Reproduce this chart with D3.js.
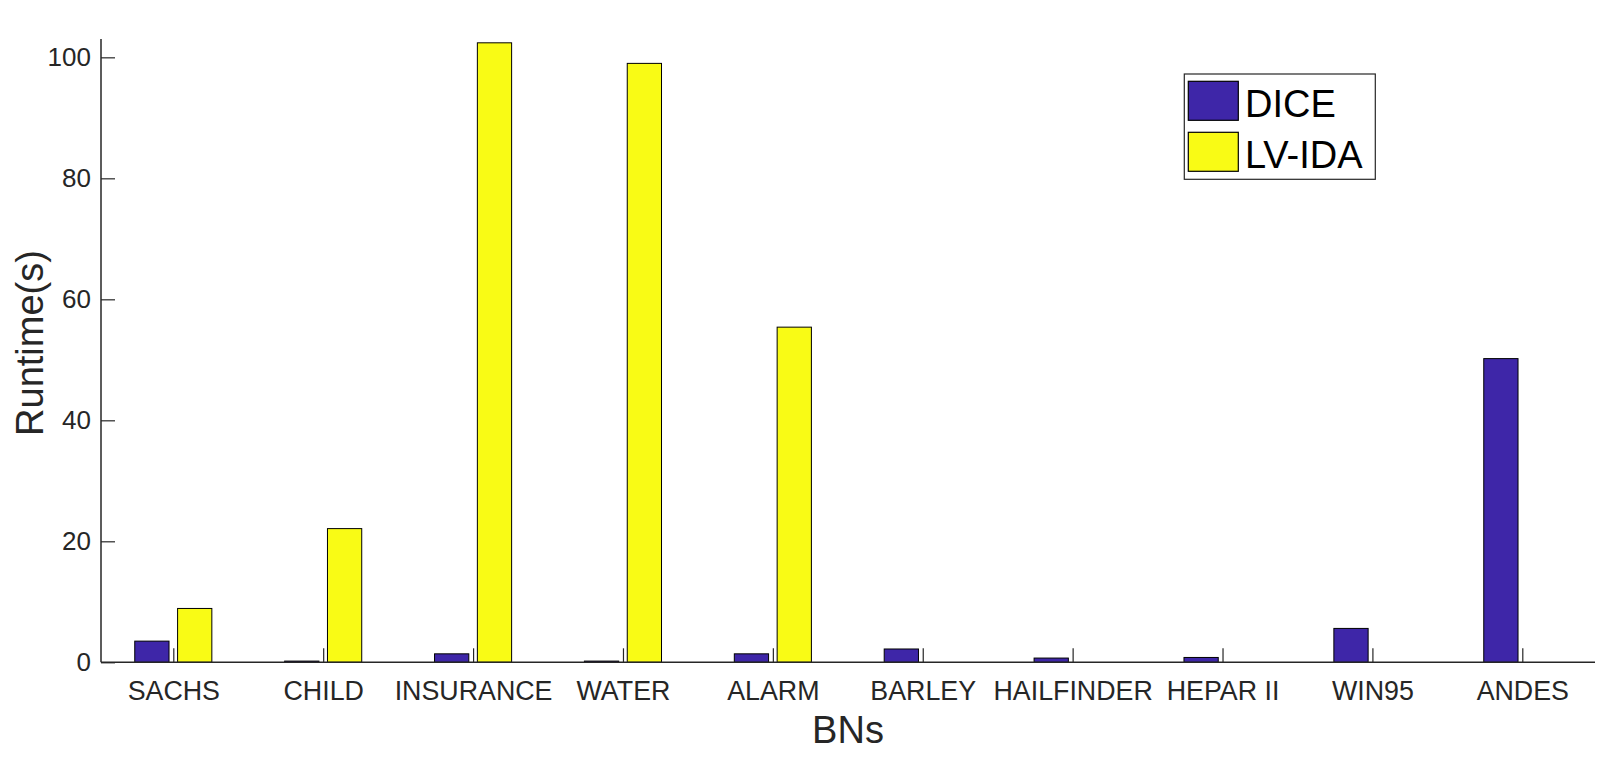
<!DOCTYPE html>
<html>
<head>
<meta charset="utf-8">
<script src="https://cdn.jsdelivr.net/npm/d3@7"></script>
<style>
  body { margin: 0; background: #fff; }
  text { font-family: "Liberation Sans", Arial, sans-serif; }
</style>
</head>
<body>
<div id="chart"></div>
<script>
// chart data
const categories = ["SACHS", "CHILD", "INSURANCE", "WATER", "ALARM", "BARLEY", "HAILFINDER", "HEPAR II", "WIN95", "ANDES"];
const diceValues = [3.5, 0.2, 1.4, 0.2, 1.4, 2.2, 0.7, 0.8, 5.6, 50.2];
const lvidaValues = [8.9, 22.1, 102.4, 99.0, 55.4, 0, 0, 0, 0, 0];
const yTicks = [0, 20, 40, 60, 80, 100];
const seriesNames = ["DICE", "LV-IDA"];
const seriesColors = ["#3e26a8", "#f9fb15"];

const width = 1597, height = 757;
const axisLeft = 101, axisRight = 1595, axisTop = 39, axisBottom = 662.3;
const axisColor = "#262626";

const svg = d3.select("#chart").append("svg")
  .attr("width", width)
  .attr("height", height);

// x: category index (1..10) -> pixel
const x = d3.scaleLinear().domain([1, 10]).range([173.3, 1522.3]);
const y = d3.scaleLinear().domain([0, 103.03]).range([axisBottom, axisTop]);

const groupWidth = 2 / 3.5;          // matlab grouped bar
const barW = groupWidth / 2 * 0.8;
const offsets = [-groupWidth / 4, groupWidth / 4];
const unit = x(2) - x(1);

const series = [diceValues, lvidaValues];
series.forEach(function (vals, s) {
  svg.append("g")
    .selectAll("rect")
    .data(vals.map((v, i) => ({ v: v, i: i + 1 })).filter(d => d.v > 0))
    .join("rect")
    .attr("x", d => x(d.i + offsets[s]) - barW * unit / 2)
    .attr("width", barW * unit)
    .attr("y", d => y(d.v))
    .attr("height", d => y(0) - y(d.v))
    .attr("fill", seriesColors[s])
    .attr("stroke", "#000")
    .attr("stroke-width", 1);
});

// y axis
const yAxis = svg.append("g").attr("transform", `translate(${axisLeft},0)`)
  .call(d3.axisRight(y).tickValues(yTicks).tickSize(14).tickFormat(d3.format("d")));
yAxis.select(".domain").remove();
yAxis.selectAll(".tick line").attr("stroke", axisColor).attr("stroke-width", 1.2);
yAxis.selectAll(".tick text")
  .attr("x", -10).attr("text-anchor", "end")
  .attr("fill", axisColor).style("font-size", "26px");

svg.append("line")
  .attr("x1", axisLeft).attr("x2", axisLeft)
  .attr("y1", axisTop).attr("y2", axisBottom)
  .attr("stroke", axisColor).attr("stroke-width", 1.5);

// x axis
const xAxis = svg.append("g").attr("transform", `translate(0,${axisBottom})`)
  .call(d3.axisTop(x).tickValues(d3.range(1, 11)).tickSize(14).tickFormat(d => categories[d - 1]));
xAxis.select(".domain").remove();
xAxis.selectAll(".tick line").attr("stroke", axisColor).attr("stroke-width", 1.2);
xAxis.selectAll(".tick text")
  .attr("y", 38).attr("dy", null)
  .attr("fill", axisColor).style("font-size", "26.8px");

svg.append("line")
  .attr("x1", axisLeft).attr("x2", axisRight)
  .attr("y1", axisBottom).attr("y2", axisBottom)
  .attr("stroke", axisColor).attr("stroke-width", 1.5);

// axis titles
svg.append("text")
  .attr("x", (axisLeft + axisRight) / 2).attr("y", 742.5)
  .attr("text-anchor", "middle")
  .attr("fill", axisColor).style("font-size", "38px")
  .text("BNs");

svg.append("text")
  .attr("transform", "translate(43,343) rotate(-90)")
  .attr("text-anchor", "middle")
  .attr("fill", axisColor).style("font-size", "38px")
  .text("Runtime(s)");

// legend
const legend = svg.append("g");
legend.append("rect")
  .attr("x", 1184.3).attr("y", 74)
  .attr("width", 191).attr("height", 105.3)
  .attr("fill", "#fff").attr("stroke", axisColor).attr("stroke-width", 1.2);

seriesNames.forEach(function (name, i) {
  legend.append("rect")
    .attr("x", 1188.3).attr("y", 81.3 + i * 51)
    .attr("width", 50).attr("height", 39)
    .attr("fill", seriesColors[i]).attr("stroke", "#000").attr("stroke-width", 1.2);
  legend.append("text")
    .attr("x", 1245).attr("y", 116.7 + i * 51.6)
    .attr("fill", "#000").style("font-size", "38px")
    .text(name);
});
</script>
</body>
</html>
